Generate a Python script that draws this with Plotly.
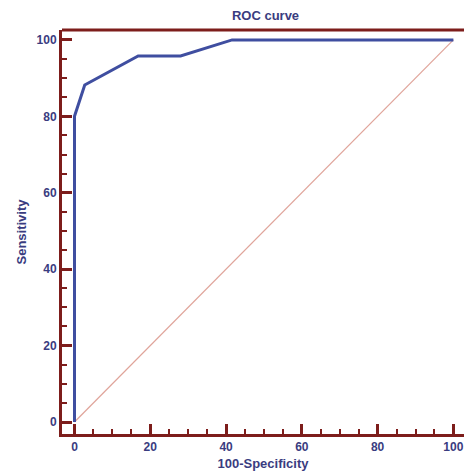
import plotly.graph_objects as go

fpr = [0, 0, 2.7, 16.8, 28.0, 41.6, 100]
tpr = [0, 80, 88.2, 95.8, 95.8, 100, 100]
diag_x = [0, 100]
diag_y = [0, 100]

axis_col = "#7d1d1b"
text_col = "#3a3c80"
font_fam = "Liberation Sans, Arial"

fig = go.Figure()
fig.add_trace(go.Scatter(x=diag_x, y=diag_y, mode="lines",
                         line=dict(color="#e0a49a", width=1.2), hoverinfo="skip"))
fig.add_trace(go.Scatter(x=fpr, y=tpr, mode="lines",
                         line=dict(color="#3f4ea0", width=3)))

common = dict(showgrid=False, zeroline=False, showline=True, linecolor=axis_col, linewidth=3,
              ticks="inside", ticklen=10, tickwidth=2.5, tickcolor=axis_col,
              tick0=0, dtick=20,
              minor=dict(ticks="inside", dtick=5, ticklen=5, tickwidth=2, tickcolor=axis_col),
              tickfont=dict(family=font_fam, size=12, color=text_col, weight="bold"),
              title_font=dict(family=font_fam, size=13, color=text_col, weight="bold"))

fig.update_xaxes(range=[-3.3, 102.8], title_text="100-Specificity", title_standoff=6, **common)
fig.update_yaxes(range=[-3.14, 102.6], title_text="Sensitivity", title_standoff=8, **common)

fig.add_shape(type="line", xref="paper", yref="paper", x0=0, x1=1, y0=1, y1=1,
              line=dict(color=axis_col, width=3))

fig.update_layout(
    width=465, height=476,
    margin=dict(l=62, r=1, t=30, b=42),
    paper_bgcolor="white", plot_bgcolor="white",
    showlegend=False,
    title=dict(text="ROC curve", x=0.571, xanchor="center", y=1 - 15 / 476, yanchor="middle",
               font=dict(family=font_fam, size=13, color=text_col, weight="bold")),
)

fig.write_html("out.html")
